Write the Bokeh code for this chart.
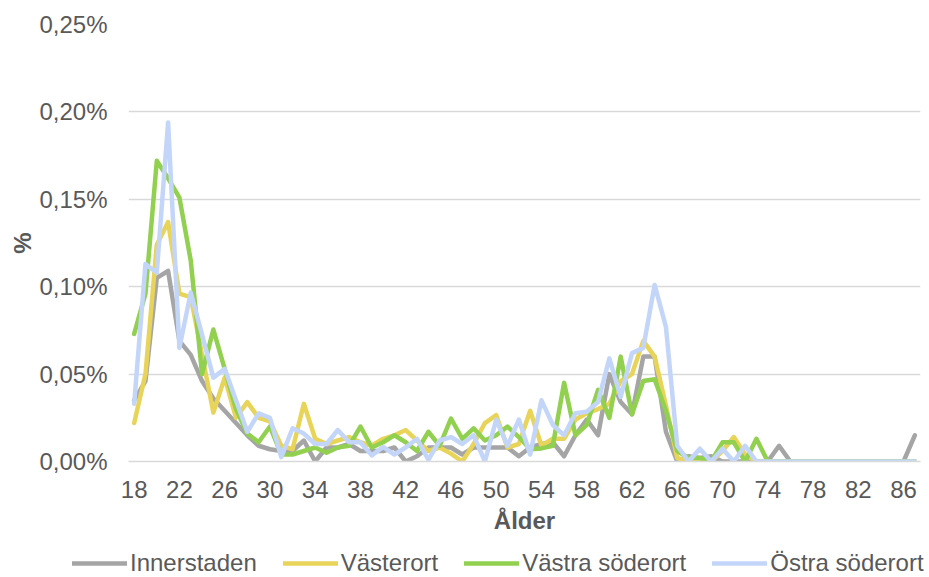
from bokeh.plotting import figure
from bokeh.models import Range1d, FixedTicker, Legend, LegendItem
from bokeh.layouts import column
from bokeh.embed import file_html
from bokeh.resources import INLINE

ages = list(range(18, 88))

innerstaden = [0.035, 0.046, 0.105, 0.109, 0.069, 0.061, 0.046, 0.036, 0.029, 0.022,
               0.015, 0.009, 0.007, 0.006, 0.006, 0.012, 0.0, 0.008, 0.008, 0.010,
               0.006, 0.006, 0.006, 0.008, 0.0, 0.003, 0.008, 0.008, 0.008, 0.004,
               0.008, 0.008, 0.008, 0.008, 0.003, 0.008, 0.010, 0.011, 0.003, 0.015,
               0.024, 0.015, 0.050, 0.034, 0.027, 0.060, 0.060, 0.017, 0.0, 0.003,
               0.002, 0.003, 0.0, 0.0, 0.0, 0.0, 0.0, 0.009, 0.0, 0.0,
               0.0, 0.0, 0.0, 0.0, 0.0, 0.0, 0.0, 0.0, 0.0, 0.015]

vasterort = [0.022, 0.050, 0.124, 0.137, 0.096, 0.094, 0.061, 0.028, 0.048, 0.025,
             0.034, 0.025, 0.023, 0.009, 0.007, 0.033, 0.013, 0.010, 0.012, 0.014,
             0.011, 0.009, 0.013, 0.015, 0.018, 0.012, 0.006, 0.008, 0.0045, 0.0,
             0.010, 0.022, 0.0265, 0.008, 0.010, 0.029, 0.009, 0.013, 0.013, 0.024,
             0.0276, 0.030, 0.033, 0.046, 0.050, 0.069, 0.060, 0.032, 0.002, 0.0,
             0.0, 0.0, 0.006, 0.014, 0.004, 0.0, 0.0, 0.0, 0.0, 0.0,
             0.0, 0.0, 0.0, 0.0, 0.0, 0.0, 0.0, 0.0, 0.0, 0.0]

vastra_soderort = [0.073, 0.096, 0.172, 0.162, 0.151, 0.115, 0.050, 0.0755, 0.053, 0.030,
                   0.016, 0.011, 0.020, 0.004, 0.004, 0.006, 0.008, 0.005, 0.008, 0.009,
                   0.020, 0.008, 0.011, 0.015, 0.011, 0.006, 0.017, 0.009, 0.0246, 0.013,
                   0.019, 0.012, 0.015, 0.020, 0.014, 0.007, 0.0075, 0.009, 0.045, 0.015,
                   0.021, 0.041, 0.025, 0.060, 0.027, 0.046, 0.047, 0.029, 0.006, 0.002,
                   0.002, 0.0, 0.011, 0.011, 0.0, 0.013, 0.0, 0.0, 0.0, 0.0,
                   0.0, 0.0, 0.0, 0.0, 0.0, 0.0, 0.0, 0.0, 0.0, 0.0]

ostra_soderort = [0.033, 0.113, 0.108, 0.194, 0.065, 0.0966, 0.0726, 0.048, 0.053, 0.035,
                  0.017, 0.0275, 0.025, 0.0025, 0.019, 0.016, 0.010, 0.010, 0.018, 0.011,
                  0.011, 0.0035, 0.0083, 0.004, 0.008, 0.013, 0.001, 0.012, 0.014, 0.010,
                  0.015, 0.0, 0.024, 0.009, 0.024, 0.004, 0.035, 0.021, 0.015, 0.0276,
                  0.0285, 0.034, 0.059, 0.037, 0.062, 0.065, 0.101, 0.077, 0.009, 0.0,
                  0.0073, 0.0, 0.0073, 0.0, 0.009, 0.0, 0.0, 0.0, 0.0, 0.0,
                  0.0, 0.0, 0.0, 0.0, 0.0, 0.0, 0.0, 0.0, 0.0, 0.0]

series_names = ["Innerstaden", "Västerort", "Västra söderort", "Östra söderort"]
series_colors = ["#A5A5A5", "#E9D45A", "#92D050", "#C3D6FA"]
series_values = [innerstaden, vasterort, vastra_soderort, ostra_soderort]

x_ticks = list(range(18, 88, 4))
y_ticks = [0.0, 0.05, 0.10, 0.15, 0.20, 0.25]
y_tick_labels = ["0,00%", "0,05%", "0,10%", "0,15%", "0,20%", "0,25%"]

FONT = "Liberation Sans"
TXT = "#595959"
FS = "24px"

p = figure(frame_width=792, frame_height=437, output_backend="svg",
           toolbar_location=None,
           x_range=Range1d(17.5, 87.5), y_range=Range1d(0, 0.25),
           min_border_left=128, min_border_right=9, min_border_top=24,
           min_border_bottom=84)
p.outline_line_color = None

p.xgrid.grid_line_color = None
p.ygrid.grid_line_color = "#D9D9D9"
p.ygrid.grid_line_width = 1.3

p.yaxis.ticker = FixedTicker(ticks=y_ticks)
p.yaxis.major_label_overrides = {t: l for t, l in zip(y_ticks, y_tick_labels)}
p.yaxis.axis_line_color = None
p.yaxis.major_tick_line_color = None
p.yaxis.minor_tick_line_color = None
p.yaxis.major_label_standoff = 15
p.yaxis.axis_label = "%"
p.yaxis.axis_label_standoff = 0

p.xaxis.ticker = FixedTicker(ticks=x_ticks)
p.xaxis.axis_line_color = "#D9D9D9"
p.xaxis.axis_line_width = 1.3
p.xaxis.major_tick_line_color = None
p.xaxis.minor_tick_line_color = None
p.xaxis.major_label_standoff = 13
p.xaxis.axis_label = "Ålder"
p.xaxis.axis_label_standoff = 6

for ax in (p.xaxis, p.yaxis):
    ax.major_label_text_font = FONT
    ax.major_label_text_font_size = FS
    ax.major_label_text_color = TXT
    ax.axis_label_text_font = FONT
    ax.axis_label_text_font_size = FS
    ax.axis_label_text_font_style = "bold"
    ax.axis_label_text_color = TXT

for col, vals in zip(series_colors, series_values):
    p.line(ages, vals, line_color=col, line_width=4.5,
           line_join="round", line_cap="round")

# legend strip below the chart
p2 = figure(frame_width=929, frame_height=32, output_backend="svg",
            toolbar_location=None, x_range=Range1d(0, 1), y_range=Range1d(0, 1),
            min_border=0, x_axis_location=None, y_axis_location=None)
p2.outline_line_color = None
p2.grid.grid_line_color = None

items = []
for name, col, vals in zip(series_names, series_colors, series_values):
    r = p2.line(ages, vals, line_color=col, line_width=4.5,
                line_join="round", line_cap="round")
    items.append(LegendItem(label=name, renderers=[r]))

legend = Legend(items=items, orientation="horizontal", location=(72, 0),
                border_line_color=None, background_fill_alpha=0, padding=0,
                margin=0, spacing=26, label_standoff=3, glyph_width=55,
                glyph_height=24, label_height=24, label_text_font=FONT,
                label_text_font_size=FS, label_text_color=TXT)
p2.add_layout(legend)

layout = column(p, p2, spacing=0)
open("out.html", "w").write(file_html(layout, INLINE))
